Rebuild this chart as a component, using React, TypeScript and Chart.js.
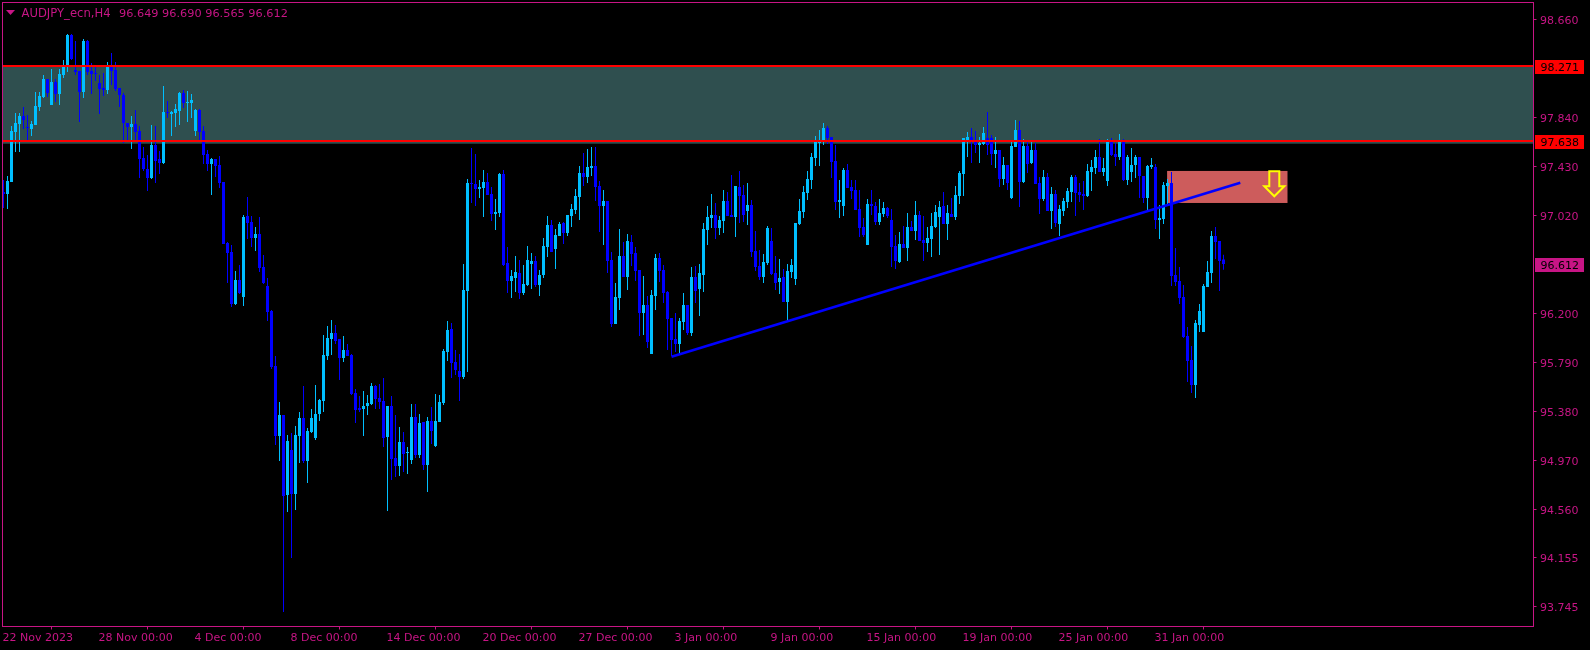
import React, { useEffect, useRef } from "react";
import { Chart, registerables } from "chart.js";
Chart.register(...registerables);

const symbolName = "AUDJPY_ecn,H4";
const symbolOhlc = "96.649 96.690 96.565 96.612";
const dateLabels = ["22 Nov 2023","28 Nov 00:00","4 Dec 00:00","8 Dec 00:00","14 Dec 00:00","20 Dec 00:00","27 Dec 00:00","3 Jan 00:00","9 Jan 00:00","15 Jan 00:00","19 Jan 00:00","25 Jan 00:00","31 Jan 00:00"];
const barsPerLabel = 24;
const priceLabels = [98.66,97.84,97.43,97.02,96.2,95.79,95.38,94.97,94.56,94.155,93.745];
const zoneTop = 98.271;
const zoneLine = 97.638;
const zoneBottom = 97.619;
const lastPrice = 96.612;
const sellBoxBars = [290.9, 321];
const sellBoxPrices = [97.391, 97.123];
const arrowBar = 317.7;
const arrowPrice = 97.388;
const trendBars = [167, 309.2];
const trendPrices = [95.837, 97.293];

const opens = [97.215,97.198,97.298,97.717,97.784,97.851,97.759,97.742,97.776,97.926,
98.010,98.160,97.943,98.135,98.035,98.194,98.278,98.529,98.236,98.227,
98.052,98.478,98.227,98.211,98.127,98.085,98.068,98.261,98.236,98.085,
98.027,97.792,97.759,97.784,97.725,97.499,97.407,97.332,97.608,97.491,
97.457,97.885,97.868,97.876,97.893,98.043,97.960,97.960,97.725,97.901,
97.725,97.533,97.449,97.491,97.441,97.298,96.788,96.713,96.277,96.478,
96.336,97.014,96.964,96.830,96.863,96.587,96.428,96.219,95.759,95.173,
95.349,94.679,95.056,94.688,95.173,95.324,94.964,95.206,95.156,95.357,
95.466,95.842,95.985,96.035,95.985,95.826,95.893,95.851,95.533,95.407,
95.399,95.424,95.441,95.592,95.491,95.466,95.165,95.424,94.989,94.922,
95.123,95.031,94.972,95.332,95.014,95.290,94.930,95.298,95.089,95.290,
95.449,95.876,96.068,95.792,95.717,95.667,96.386,97.290,97.282,97.240,
97.248,97.298,97.198,97.031,97.039,97.365,96.621,96.470,96.495,96.537,
96.370,96.436,96.612,96.637,96.436,96.520,96.755,96.939,96.738,96.847,
96.955,96.872,97.014,97.064,97.173,97.374,97.340,97.416,97.432,97.265,
97.098,97.139,96.646,96.110,96.328,96.679,96.503,96.797,96.704,96.562,
96.202,96.269,95.859,96.344,96.662,96.562,96.378,96.160,95.985,95.943,
96.127,96.269,96.035,96.503,96.403,96.520,96.897,96.997,97.022,96.914,
96.972,97.139,97.022,97.006,97.257,97.190,97.056,97.106,96.721,96.596,
96.503,96.621,96.805,96.537,96.462,96.503,96.294,96.545,96.487,96.947,
97.047,97.206,97.315,97.499,97.625,97.633,97.750,97.675,97.474,97.131,
97.098,97.399,97.257,97.232,97.072,96.922,96.771,97.114,97.098,96.964,
97.031,97.081,96.981,96.763,96.629,96.780,96.746,96.922,96.889,97.022,
96.813,96.788,96.822,96.922,97.006,97.098,96.947,97.031,97.006,97.181,
97.365,97.650,97.675,97.642,97.608,97.617,97.667,97.667,97.533,97.566,
97.323,97.441,97.165,97.591,97.734,97.298,97.600,97.457,97.566,97.290,
97.156,97.340,97.056,97.198,96.947,97.056,97.131,97.215,97.340,97.215,
97.198,97.181,97.382,97.416,97.508,97.382,97.307,97.633,97.533,97.508,
97.633,97.315,97.382,97.441,97.508,97.349,97.165,97.424,97.424,96.981,
96.989,97.265,97.290,96.520,96.470,96.336,96.010,95.809,95.600,96.102,
96.043,96.420,96.537,96.847,96.805,96.649];

const closes = [97.198,97.307,97.725,97.792,97.851,97.817,97.750,97.784,97.935,98.018,
98.160,98.043,98.135,98.035,98.202,98.261,98.529,98.328,98.219,98.052,
98.478,98.219,98.202,98.202,98.077,98.068,98.261,98.227,98.077,98.027,
97.792,97.759,97.784,97.717,97.491,97.407,97.332,97.608,97.474,97.457,
97.885,97.876,97.885,97.910,98.043,97.960,97.968,97.985,97.901,97.717,
97.525,97.449,97.491,97.432,97.290,96.780,96.704,96.277,96.478,96.370,
97.006,96.955,96.830,96.863,96.579,96.453,96.210,95.750,95.173,95.349,
94.671,95.131,94.688,95.181,95.324,94.964,95.215,95.324,95.357,95.474,
95.851,95.993,96.035,95.968,95.826,95.893,95.842,95.525,95.390,95.390,
95.424,95.449,95.592,95.483,95.458,95.156,95.424,94.980,94.922,95.123,
95.022,95.039,95.332,95.014,95.282,94.930,95.298,95.215,95.298,95.458,
95.884,96.060,95.784,95.725,95.667,96.395,97.290,97.282,97.240,97.257,
97.298,97.190,97.031,97.047,97.365,96.604,96.470,96.512,96.545,96.370,
96.445,96.646,96.637,96.436,96.520,96.763,96.939,96.713,96.855,96.947,
96.872,97.022,97.072,97.181,97.374,97.340,97.424,97.432,97.257,97.098,
97.139,96.637,96.110,96.336,96.679,96.503,96.805,96.696,96.554,96.202,
96.269,95.960,96.353,96.662,96.554,96.370,96.152,95.976,95.943,96.135,
96.269,96.035,96.503,96.386,96.537,96.905,97.006,97.022,96.914,96.981,
97.139,97.014,97.006,97.265,97.181,97.022,97.106,96.713,96.587,96.503,
96.629,96.914,96.529,96.453,96.495,96.294,96.554,96.604,96.955,97.056,
97.215,97.323,97.508,97.633,97.633,97.750,97.667,97.466,97.131,97.148,
97.399,97.248,97.223,97.064,96.914,96.855,97.114,97.098,96.964,97.039,
97.081,97.014,96.755,96.637,96.780,96.746,96.922,96.889,97.022,96.805,
96.788,96.830,96.930,97.047,97.089,96.947,97.039,97.006,97.190,97.374,
97.667,97.675,97.642,97.608,97.625,97.709,97.608,97.533,97.566,97.323,
97.441,97.290,97.600,97.734,97.298,97.600,97.449,97.566,97.282,97.156,
97.340,97.056,97.198,96.955,97.072,97.139,97.223,97.340,97.206,97.190,
97.181,97.391,97.424,97.508,97.382,97.416,97.633,97.525,97.508,97.633,
97.315,97.508,97.441,97.508,97.349,97.165,97.432,97.441,96.981,96.997,
97.273,97.290,96.512,96.462,96.328,96.001,95.801,95.600,96.118,96.219,
96.428,96.545,96.847,96.797,96.637,96.612];

const highs = [97.315,97.349,97.767,97.876,97.876,97.926,97.859,97.809,98.052,98.052,
98.194,98.160,98.244,98.160,98.244,98.319,98.537,98.537,98.478,98.227,
98.495,98.487,98.294,98.278,98.194,98.211,98.303,98.378,98.303,98.085,
98.043,97.792,97.851,97.901,97.767,97.591,97.525,97.776,97.767,97.558,
98.102,97.976,97.893,97.951,98.052,98.068,98.060,98.035,97.910,97.910,
97.767,97.566,97.499,97.491,97.516,97.298,96.797,96.771,96.554,96.604,
97.022,97.173,97.014,96.922,97.006,96.688,96.495,96.227,95.842,95.458,
95.349,95.181,95.198,95.257,95.374,95.592,95.240,95.399,95.600,95.483,
96.018,96.093,96.144,96.102,95.985,96.010,95.943,95.859,95.566,95.508,
95.550,95.516,95.617,95.600,95.608,95.658,95.424,95.508,95.349,95.248,
95.206,95.081,95.441,95.441,95.357,95.290,95.332,95.416,95.525,95.516,
95.901,96.135,96.118,95.893,95.859,96.612,97.323,97.583,97.533,97.315,
97.399,97.374,97.257,97.156,97.374,97.399,96.755,96.562,96.679,96.646,
96.604,96.763,96.704,96.679,96.562,96.830,97.014,96.981,96.905,96.964,
96.964,97.022,97.114,97.240,97.432,97.541,97.575,97.591,97.591,97.307,
97.232,97.139,96.713,96.453,96.905,96.797,96.863,96.855,96.755,96.562,
96.512,96.344,96.395,96.696,96.704,96.604,96.386,96.160,96.202,96.160,
96.370,96.269,96.587,96.596,96.612,96.955,97.098,97.198,97.123,97.014,
97.232,97.215,97.357,97.265,97.391,97.273,97.290,97.148,96.889,96.729,
96.696,96.930,96.914,96.679,96.654,96.570,96.612,96.654,96.955,97.156,
97.265,97.391,97.541,97.683,97.734,97.792,97.767,97.675,97.608,97.315,
97.416,97.449,97.315,97.315,97.232,96.997,97.156,97.232,97.131,97.156,
97.131,97.089,97.072,96.855,96.880,96.930,97.039,96.972,97.139,97.056,
97.014,96.922,97.039,97.106,97.139,97.215,97.106,97.165,97.265,97.391,
97.667,97.717,97.750,97.725,97.675,97.759,97.885,97.692,97.675,97.566,
97.508,97.441,97.642,97.817,97.809,97.658,97.633,97.633,97.625,97.340,
97.399,97.374,97.257,97.232,97.106,97.165,97.248,97.357,97.357,97.290,
97.307,97.449,97.483,97.566,97.658,97.499,97.658,97.667,97.625,97.700,
97.658,97.525,97.583,97.525,97.508,97.349,97.441,97.499,97.449,97.106,
97.298,97.323,97.382,96.746,96.587,96.436,96.085,95.926,96.144,96.277,
96.445,96.637,96.889,96.922,96.805,96.690];

const lows = [97.081,97.072,97.298,97.550,97.550,97.742,97.650,97.683,97.776,97.893,
98.001,98.010,97.943,97.968,97.943,98.169,98.219,98.319,98.194,97.801,
98.001,98.194,98.035,98.144,97.868,98.018,98.035,98.110,98.060,97.926,
97.625,97.650,97.575,97.650,97.332,97.391,97.223,97.323,97.290,97.365,
97.449,97.834,97.683,97.759,97.776,97.918,97.801,97.834,97.683,97.650,
97.449,97.391,97.190,97.340,97.248,96.780,96.453,96.252,96.269,96.361,
96.261,96.822,96.755,96.721,96.545,96.445,96.135,95.734,95.098,94.964,
93.700,94.537,94.152,94.554,94.947,94.947,94.780,95.198,95.139,95.298,
95.374,95.809,95.851,95.943,95.642,95.792,95.842,95.516,95.282,95.374,
95.173,95.349,95.432,95.399,95.399,95.081,94.545,94.805,94.830,94.838,
94.872,94.855,94.939,94.989,94.989,94.888,94.704,95.106,95.081,95.290,
95.432,95.801,95.658,95.683,95.466,95.650,95.709,97.123,97.098,97.165,
97.006,97.190,96.972,96.897,97.006,96.596,96.370,96.328,96.378,96.319,
96.353,96.428,96.403,96.420,96.344,96.495,96.671,96.713,96.570,96.847,
96.780,96.847,96.922,97.031,96.981,97.265,97.290,97.349,97.139,96.880,
96.771,96.537,96.085,96.110,96.227,96.503,96.395,96.596,96.470,96.010,
96.018,95.909,95.859,96.227,96.462,96.286,95.893,95.842,95.876,95.868,
96.060,96.018,96.010,96.286,96.177,96.378,96.771,96.914,96.822,96.855,
96.872,97.014,97.006,96.838,96.955,96.964,96.939,96.671,96.554,96.478,
96.453,96.604,96.520,96.395,96.361,96.294,96.135,96.495,96.436,96.939,
96.997,97.148,97.240,97.432,97.432,97.608,97.617,97.332,97.064,96.997,
97.014,97.248,97.156,97.064,96.838,96.838,96.771,97.022,96.939,96.939,
97.006,96.997,96.587,96.570,96.621,96.746,96.637,96.889,96.813,96.805,
96.637,96.713,96.671,96.914,96.688,96.947,96.813,97.006,96.981,97.114,
97.181,97.508,97.457,97.541,97.457,97.608,97.525,97.441,97.416,97.257,
97.273,97.232,97.156,97.591,97.089,97.290,97.374,97.449,97.282,97.031,
97.139,97.056,96.905,96.922,96.847,97.014,97.081,97.131,97.014,97.131,
97.064,97.173,97.223,97.365,97.382,97.349,97.265,97.516,97.432,97.483,
97.307,97.273,97.298,97.332,97.165,97.123,97.064,97.407,96.905,96.822,
96.947,97.106,96.428,96.428,96.277,95.993,95.625,95.533,95.491,96.043,
96.043,96.420,96.453,96.654,96.386,96.565];

const AXIS = "#C71585";
const UP = "#00BFFF";
const DOWN = "#0000FF";
const ZONE = "#2F4F4F";
const FONT = "DejaVu Sans";

const clearScalePadding = (s: any) => {
  s.paddingTop = 0;
  s.paddingBottom = 0;
  s.paddingLeft = 0;
  s.paddingRight = 0;
};

const overlay = {
  id: "overlay",
  beforeDatasetsDraw(c: any) {
    const { ctx, chartArea: a, scales: { x, y } } = c;
    ctx.save();
    ctx.fillStyle = ZONE;
    ctx.fillRect(a.left, y.getPixelForValue(zoneTop), a.right - a.left, y.getPixelForValue(zoneBottom) - y.getPixelForValue(zoneTop));
    ctx.fillStyle = "#CD5C5C";
    const bx = x.getPixelForValue(sellBoxBars[0]);
    const by = y.getPixelForValue(sellBoxPrices[0]);
    ctx.fillRect(bx, by, x.getPixelForValue(sellBoxBars[1]) - bx, y.getPixelForValue(sellBoxPrices[1]) - by);
    ctx.restore();
  },
  afterDatasetsDraw(c: any) {
    const { ctx, chartArea: a, scales: { x, y } } = c;
    ctx.save();
    ctx.strokeStyle = "#FF0000";
    ctx.lineWidth = 2;
    [zoneTop, zoneLine].forEach((v) => {
      const py = Math.round(y.getPixelForValue(v));
      ctx.beginPath();
      ctx.moveTo(a.left, py);
      ctx.lineTo(a.right, py);
      ctx.stroke();
    });
    const ax = x.getPixelForValue(arrowBar);
    const ay = y.getPixelForValue(arrowPrice);
    ctx.strokeStyle = "#FFFF00";
    ctx.lineWidth = 2;
    ctx.beginPath();
    ctx.moveTo(ax - 5, ay);
    ctx.lineTo(ax + 5, ay);
    ctx.lineTo(ax + 5, ay + 15);
    ctx.lineTo(ax + 10, ay + 15);
    ctx.lineTo(ax, ay + 25);
    ctx.lineTo(ax - 10, ay + 15);
    ctx.lineTo(ax - 5, ay + 15);
    ctx.closePath();
    ctx.stroke();
    ctx.strokeStyle = AXIS;
    ctx.lineWidth = 1;
    ctx.strokeRect(a.left, a.top, a.right - a.left, a.bottom - a.top);
    ctx.textBaseline = "middle";
    ctx.textAlign = "left";
    ctx.fillStyle = AXIS;
    ctx.font = `11.6px '${FONT}'`;
    ctx.fillText(symbolName, 21.5, 14);
    ctx.font = `11.3px '${FONT}'`;
    ctx.fillText(symbolOhlc, 119, 14);
    ctx.beginPath();
    ctx.moveTo(6, 10);
    ctx.lineTo(15, 10);
    ctx.lineTo(10.5, 15);
    ctx.closePath();
    ctx.fill();
    ctx.font = `11px '${FONT}'`;
    const tags: [number, string][] = [[zoneTop, "#FF0000"], [zoneLine, "#FF0000"], [lastPrice, AXIS]];
    tags.forEach(([v, col]) => {
      const py = Math.round(y.getPixelForValue(v));
      ctx.fillStyle = col;
      ctx.fillRect(1535, py - 6, 49, 14);
      ctx.fillStyle = "#000000";
      ctx.fillText(v.toFixed(3), 1540.5, py + 2);
    });
    ctx.restore();
  },
};

export default function App() {
  const ref = useRef<HTMLCanvasElement>(null);
  useEffect(() => {
    const n = opens.length;
    const idx = Array.from({ length: n }, (_, i) => i);
    const colors = idx.map((i) => (closes[i] >= opens[i] ? UP : DOWN));
    const chart = new Chart(ref.current as HTMLCanvasElement, {
      type: "bar",
      data: {
        datasets: [
          {
            type: "line",
            label: "Trend",
            data: trendBars.map((b, i) => ({ x: b, y: trendPrices[i] })),
            borderColor: DOWN,
            borderWidth: 2.6,
            pointRadius: 0,
            order: 0,
          },
          {
            label: "Body",
            data: idx.map((i) => ({ x: i, y: [opens[i], closes[i]] })),
            backgroundColor: colors,
            barThickness: 3,
            grouped: false,
            inflateAmount: 0,
            order: 1,
          },
          {
            label: "Wick",
            data: idx.map((i) => ({ x: i, y: [lows[i], highs[i]] })),
            backgroundColor: colors,
            barThickness: 1,
            grouped: false,
            inflateAmount: 0,
            order: 2,
          },
        ] as any,
      },
      options: {
        animation: false,
        responsive: false,
        devicePixelRatio: 1,
        layout: { autoPadding: false, padding: { top: 2.5, left: 2.5, right: 0, bottom: 0 } },
        plugins: { legend: { display: false }, tooltip: { enabled: false }, title: { display: false } },
        scales: {
          x: {
            type: "linear",
            min: -0.25,
            max: 382.5,
            offset: false,
            grid: { drawOnChartArea: false, drawTicks: true, tickLength: 3, tickColor: AXIS },
            border: { color: AXIS },
            afterFit: (s: any) => { s.height = 23.5; clearScalePadding(s); },
            afterBuildTicks: (s: any) => { s.ticks = dateLabels.map((_, i) => ({ value: i * barsPerLabel })); },
            ticks: {
              autoSkip: false,
              maxRotation: 0,
              minRotation: 0,
              align: "start",
              color: AXIS,
              padding: 2.5,
              labelOffset: -1,
              font: { family: FONT, size: 11 },
              callback: (v: any) => dateLabels[Math.round(Number(v) / barsPerLabel)],
            },
          },
          y: {
            type: "linear",
            position: "right",
            min: 93.5788,
            max: 98.8006,
            grid: { drawOnChartArea: false, drawTicks: true, tickLength: 3, tickColor: AXIS },
            border: { color: AXIS },
            afterFit: (s: any) => { s.width = 56.5; clearScalePadding(s); },
            afterBuildTicks: (s: any) => { s.ticks = priceLabels.map((v) => ({ value: v })); },
            ticks: {
              autoSkip: false,
              color: AXIS,
              padding: 3.5,
              labelOffset: 1.5,
              font: { family: FONT, size: 11 },
              callback: (v: any) => Number(v).toFixed(3),
            },
          },
        },
      } as any,
      plugins: [overlay],
    });
    return () => chart.destroy();
  }, []);
  return (
    <div style={{ position: "absolute", left: 0, top: 0, width: 1590, height: 650, background: "#000", overflow: "hidden" }}>
      <canvas ref={ref} width={1590} height={650} style={{ display: "block", width: 1590, height: 650 }} />
    </div>
  );
}
